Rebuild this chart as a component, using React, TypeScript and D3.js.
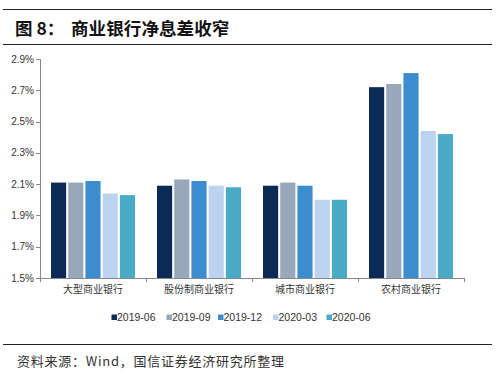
import React from "react";
import * as d3 from "d3";

const categories = ["大型商业银行", "股份制商业银行", "城市商业银行", "农村商业银行"];
const seriesNames = ["2019-06", "2019-09", "2019-12", "2020-03", "2020-06"];
const s201906 = [2.11, 2.09, 2.09, 2.72];
const s201909 = [2.11, 2.13, 2.11, 2.74];
const s201912 = [2.12, 2.12, 2.09, 2.81];
const s202003 = [2.04, 2.09, 2.0, 2.44];
const s202006 = [2.03, 2.08, 2.0, 2.42];
const yTicks = [1.5, 1.7, 1.9, 2.1, 2.3, 2.5, 2.7, 2.9];
const colors = ["#0B2A55", "#98A8BA", "#3C8DD0", "#BCD3EF", "#4AABC6"];

const seriesValues = [s201906, s201909, s201912, s202003, s202006];

export default function App() {
  const W = 500, H = 379;
  const left = 40, right = 464, top = 59, bottom = 278;
  const y = d3.scaleLinear().domain([1.5, 2.9]).range([bottom, top]);
  const step = (right - left) / categories.length;
  const groupW = 84;
  const x1 = d3.scaleBand().domain(seriesNames).range([0, groupW]).paddingInner(0.12);
  const catTicks = d3.range(categories.length + 1).map((i) => left + i * step);
  const legendX = [111.5, 166.5, 218, 273, 326.5];
  const font = "'Liberation Sans', Arial, sans-serif";
  const cjk = "'Noto Sans CJK SC', sans-serif";
  return (
    <svg width={W} height={H} style={{ position: "absolute", left: 0, top: 0, background: "#fff" }}>
      <line x1={3} x2={492} y1={9.5} y2={9.5} stroke="#222" strokeWidth={1} />
      <text x={15} y={35} fontFamily={cjk} fontWeight="bold" fontSize={17.5} fill="#111">图 8：</text>
      <text x={71} y={35} fontFamily={cjk} fontWeight="bold" fontSize={17.5} letterSpacing={0.1} fill="#111">商业银行净息差收窄</text>
      <line x1={3} x2={492} y1={44.5} y2={44.5} stroke="#222" strokeWidth={1} />

      {yTicks.map((t) => (
        <g key={t}>
          <line x1={left - 4} x2={left} y1={Math.round(y(t)) + 0.5} y2={Math.round(y(t)) + 0.5} stroke="#888" />
          <text x={34} y={y(t) + 3.5} textAnchor="end" fontFamily={font} fontSize={10} fill="#333">
            {t.toFixed(1) + "%"}
          </text>
        </g>
      ))}
      <line x1={left + 0.5} x2={left + 0.5} y1={top} y2={bottom} stroke="#888" />

      {categories.map((c, ci) => {
        const gx = left + ci * step + (step - groupW) / 2;
        return (
          <g key={c}>
            {seriesNames.map((s, si) => {
              const v = seriesValues[si][ci];
              return (
                <rect key={s} x={gx + (x1(s) as number)} y={y(v)} width={x1.bandwidth()} height={bottom - y(v)} fill={colors[si]} />
              );
            })}
            <text x={left + ci * step + step / 2} y={293} textAnchor="middle" fontFamily={cjk} fontSize={10} fill="#333">{c}</text>
          </g>
        );
      })}
      <line x1={left} x2={right} y1={bottom + 0.5} y2={bottom + 0.5} stroke="#888" />
      {catTicks.map((t, i) => (
        <line key={i} x1={t + 0.5} x2={t + 0.5} y1={bottom} y2={bottom + 4} stroke="#888" />
      ))}

      {seriesNames.map((s, i) => (
        <g key={s}>
          <rect x={legendX[i]} y={314.5} width={5.5} height={5.5} fill={colors[i]} />
          <text x={legendX[i] + 5.5} y={320.5} fontFamily={font} fontSize={10.5} fill="#333">{s}</text>
        </g>
      ))}

      <line x1={3} x2={492} y1={344.5} y2={344.5} stroke="#222" strokeWidth={1} />
      <text x={17} y={366} fontFamily={cjk} fontSize={13} letterSpacing={0.75} fill="#333">资料来源：Wind，国信证券经济研究所整理</text>
    </svg>
  );
}
